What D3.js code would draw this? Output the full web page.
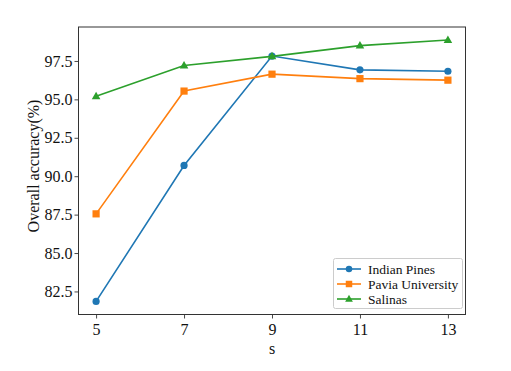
<!DOCTYPE html>
<html><head><meta charset="utf-8">
<script src="https://cdn.jsdelivr.net/npm/d3@7"></script>
<style>body{margin:0;background:#fff}svg text{font-family:"Liberation Serif","DejaVu Serif",serif;fill:#111}</style>
</head><body><svg id="c" width="511" height="371"></svg>
<script>
const sValues = [5, 7, 9, 11, 13];
const indianPines = [81.85, 90.70, 97.82, 96.92, 96.83];
const paviaUniversity = [87.55, 95.54, 96.64, 96.35, 96.25];
const salinas = [95.20, 97.20, 97.80, 98.50, 98.86];
const yTicks = [82.5, 85.0, 87.5, 90.0, 92.5, 95.0, 97.5];
const seriesNames = ["Indian Pines", "Pavia University", "Salinas"];
const seriesColors = ["#1f77b4", "#ff7f0e", "#2ca02c"];
const seriesMarkers = ["circle", "square", "triangle"];
const seriesData = [indianPines, paviaUniversity, salinas];

const svg = d3.select("#c");
const L = 78.5, R = 465.5, T = 27, B = 314.5;
const x = d3.scaleLinear().domain([4.6, 13.4]).range([L, R]);
const y = d3.scaleLinear().domain([81.0, 99.71]).range([B, T]);

const xAxis = svg.append("g").attr("transform", `translate(0,${B})`)
  .call(d3.axisBottom(x).tickValues(sValues).tickFormat(d3.format("d")).tickSize(4).tickPadding(4));
const yAxis = svg.append("g").attr("transform", `translate(${L},0)`)
  .call(d3.axisLeft(y).tickValues(yTicks).tickFormat(d3.format(".1f")).tickSize(4).tickPadding(2));
[xAxis, yAxis].forEach(a => {
  a.attr("font-family", null);
  a.select(".domain").remove();
  a.selectAll(".tick line").attr("stroke", "#333").attr("stroke-width", 0.9);
  a.selectAll(".tick text").attr("font-size", 16).attr("fill", "#111")
   .style("font-family", '"Liberation Serif",serif');
});
xAxis.selectAll(".tick text").attr("dy", "0.8em");

svg.append("rect").attr("x", L).attr("y", T).attr("width", R - L).attr("height", B - T)
  .attr("fill", "none").attr("stroke", "#333").attr("stroke-width", 1);

function marker(g, type, cx, cy, color, s) {
  if (type === "circle") g.append("circle").attr("cx", cx).attr("cy", cy).attr("r", 3.6*s).attr("fill", color);
  else if (type === "square") g.append("rect").attr("x", cx - 3.6*s).attr("y", cy - 3.6*s).attr("width", 7.2*s).attr("height", 7.2*s).attr("fill", color);
  else g.append("path").attr("d", `M${cx},${cy-4.6*s}L${cx+4.3*s},${cy+3*s}L${cx-4.3*s},${cy+3*s}Z`).attr("fill", color);
}

const line = d3.line().x((d, i) => x(sValues[i])).y(d => y(d));
seriesData.forEach((data, k) => {
  const g = svg.append("g");
  g.append("path").datum(data).attr("d", line).attr("fill", "none")
    .attr("stroke", seriesColors[k]).attr("stroke-width", 1.6);
  data.forEach((v, i) => marker(g, seriesMarkers[k], x(sValues[i]), y(v), seriesColors[k], 1));
});

svg.append("text").attr("x", x(9)).attr("y", 354).attr("text-anchor", "middle")
  .attr("font-size", 16).text("s");
svg.append("text").attr("transform", `translate(39,166) rotate(-90)`)
  .attr("text-anchor", "middle").attr("font-size", 16).text("Overall accuracy(%)");

// legend
const lg = svg.append("g");
lg.append("rect").attr("x", 333.5).attr("y", 258.5).attr("width", 129).attr("height", 50)
  .attr("rx", 2).attr("fill", "#fff").attr("fill-opacity", 0.8).attr("stroke", "#ccc").attr("stroke-width", 1);
seriesNames.forEach((name, k) => {
  const yy = 269 + k * 15;
  lg.append("line").attr("x1", 337).attr("x2", 361).attr("y1", yy).attr("y2", yy)
    .attr("stroke", seriesColors[k]).attr("stroke-width", 1.6);
  marker(lg, seriesMarkers[k], 349, yy, seriesColors[k], 0.9);
  lg.append("text").attr("x", 368).attr("y", yy).attr("dy", "0.35em")
    .attr("font-size", 13.5).text(name);
});
</script></body></html>
